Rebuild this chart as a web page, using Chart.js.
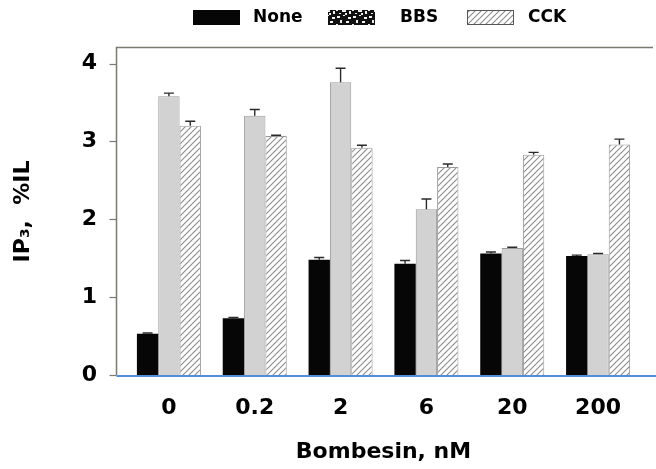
<!DOCTYPE html>
<html>
<head>
<meta charset="utf-8">
<script src="https://cdn.jsdelivr.net/npm/chart.js@4.4.1/dist/chart.umd.min.js"></script>
<style>
    html, body { margin: 0; padding: 0; background: #fff; }
</style>
</head>
<body>
<canvas id="ip3Chart" width="656" height="469"></canvas>
<script>
// ---------------- DATA ----------------
const doses = ["0", "0.2", "2", "6", "20", "200"];
const seriesNames = ["None", "BBS", "CCK"];
const noneValues = [0.53, 0.73, 1.48, 1.43, 1.56, 1.53];
const noneErrors = [0.01, 0.01, 0.03, 0.04, 0.02, 0.01];
const bbsValues = [3.58, 3.33, 3.76, 2.13, 1.63, 1.55];
const bbsErrors = [0.04, 0.08, 0.18, 0.13, 0.01, 0.01];
const cckValues = [3.20, 3.07, 2.92, 2.67, 2.83, 2.96];
const cckErrors = [0.06, 0.01, 0.03, 0.04, 0.03, 0.07];
const yTicks = [0, 1, 2, 3, 4];

// ---------------- STYLE ----------------
const FONT = "'DejaVu Sans', 'Liberation Sans', sans-serif";
Chart.defaults.font.family = FONT;
Chart.defaults.font.weight = "bold";
Chart.defaults.color = "#000";

// diagonal hatch for CCK bars
function makeHatch() {
    const c = document.createElement("canvas");
    c.width = 6;
    c.height = 6;
    const g = c.getContext("2d");
    g.fillStyle = "#fff";
    g.fillRect(0, 0, 6, 6);
    g.strokeStyle = "#8c8c8c";
    g.lineWidth = 1.1;
    g.beginPath();
    g.moveTo(-1, 7); g.lineTo(7, -1);
    g.moveTo(-1, 1); g.lineTo(1, -1);
    g.moveTo(5, 7); g.lineTo(7, 5);
    g.stroke();
    return g.createPattern(c, "repeat");
}

// blotchy dark swatch used for BBS in the legend (looks like the scanned key)
function makeSpeckle() {
    const c = document.createElement("canvas");
    c.width = 16;
    c.height = 15;
    const g = c.getContext("2d");
    g.fillStyle = "#111";
    g.fillRect(0, 0, 16, 15);
    g.fillStyle = "#f0f0f0";
    const spots = [[1, 1, 3, 2], [7, 0, 2, 1], [12, 2, 3, 2], [4, 5, 2, 3], [10, 6, 3, 2],
                   [0, 9, 2, 2], [6, 10, 4, 2], [13, 11, 2, 3], [3, 13, 2, 1], [9, 13, 2, 2]];
    spots.forEach(([x, y, w, h]) => g.fillRect(x, y, w, h));
    return g.createPattern(c, "repeat");
}

const hatch = makeHatch();
const speckle = makeSpeckle();

const seriesValues = [noneValues, bbsValues, cckValues];
const seriesErrors = [noneErrors, bbsErrors, cckErrors];
const barFills = ["#060606", "#d2d2d2", hatch];
const barEdges = ["#060606", "#9a9a9a", "#9a9a9a"];
const legendFills = ["#060606", speckle, hatch];

// legend placement (px)
const legendBoxX = [193, 328, 467];
const legendTextX = [253, 400, 528];

// ---------------- PLUGINS ----------------
const frameAndErrors = {
    id: "frameAndErrors",
    afterDatasetsDraw(chart) {
        const ctx = chart.ctx;
        const y = chart.scales.y;
        ctx.save();
        ctx.strokeStyle = "#2a2a2a";
        ctx.lineWidth = 1.4;
        chart.data.datasets.forEach((ds, i) => {
            const meta = chart.getDatasetMeta(i);
            meta.data.forEach((bar, j) => {
                const top = y.getPixelForValue(ds.data[j] + seriesErrors[i][j]);
                ctx.beginPath();
                ctx.moveTo(bar.x, bar.y);
                ctx.lineTo(bar.x, top);
                ctx.moveTo(bar.x - 5, top);
                ctx.lineTo(bar.x + 5, top);
                ctx.stroke();
            });
        });
        ctx.restore();
    },
    afterDraw(chart) {
        const ctx = chart.ctx;
        const area = chart.chartArea;
        const y = chart.scales.y;
        const left = area.left - 9.5;
        ctx.save();
        // frame: top and left
        ctx.strokeStyle = "#7a7a72";
        ctx.lineWidth = 1.5;
        ctx.beginPath();
        ctx.moveTo(chart.width - 3, area.top - 0.5);
        ctx.lineTo(left, area.top - 0.5);
        ctx.lineTo(left, area.bottom);
        ctx.stroke();
        // y tick marks outside the frame
        ctx.lineWidth = 1.2;
        y.ticks.forEach(t => {
            const py = Math.round(y.getPixelForValue(t.value)) + 0.5;
            ctx.beginPath();
            ctx.moveTo(left - 7, py);
            ctx.lineTo(left, py);
            ctx.stroke();
        });
        // blue baseline
        ctx.strokeStyle = "#4f8fd8";
        ctx.lineWidth = 2;
        ctx.beginPath();
        ctx.moveTo(left, area.bottom + 1);
        ctx.lineTo(chart.width, area.bottom + 1);
        ctx.stroke();
        // legend
        ctx.font = "bold 17px " + FONT;
        ctx.textBaseline = "middle";
        seriesNames.forEach((name, i) => {
            ctx.fillStyle = legendFills[i];
            ctx.fillRect(legendBoxX[i], 10, 47, 15);
            if (i === 2) {
                ctx.strokeStyle = "#555";
                ctx.lineWidth = 1;
                ctx.strokeRect(legendBoxX[i] + 0.5, 10.5, 46, 14);
            }
            ctx.fillStyle = "#000";
            ctx.fillText(name, legendTextX[i], 18);
        });
        ctx.restore();
    }
};

// ---------------- CHART ----------------
const ctx = document.getElementById("ip3Chart");
new Chart(ctx, {
    type: "bar",
    data: {
        labels: doses,
        datasets: seriesNames.map((name, i) => ({
            label: name,
            data: seriesValues[i],
            backgroundColor: barFills[i],
            borderColor: barEdges[i],
            borderWidth: i === 0 ? 0 : 1,
            borderSkipped: "start",
            categoryPercentage: 0.746,
            barPercentage: 1.0,
        }))
    },
    options: {
        responsive: false,
        animation: false,
        devicePixelRatio: 1,
        layout: { padding: { top: 48, right: 15, left: 0, bottom: 0 } },
        plugins: {
            legend: { display: false },
            tooltip: { enabled: false },
        },
        scales: {
            x: {
                grid: { display: false, drawTicks: false },
                border: { display: false },
                ticks: { font: { size: 22, weight: "bold" }, padding: 20, maxRotation: 0 },
                title: {
                    display: true,
                    text: "Bombesin, nM",
                    font: { size: 22, weight: "bold" },
                    padding: { top: 0, bottom: 4 },
                },
                afterFit(scale) { scale.height = 94; },
            },
            y: {
                min: 0,
                max: 4.2,
                grid: { display: false, drawTicks: false },
                border: { display: false },
                ticks: { font: { size: 22, weight: "bold" }, padding: 29 },
                afterBuildTicks(scale) {
                    scale.ticks = yTicks.map(v => ({ value: v }));
                },
                title: {
                    display: true,
                    text: "IP\u2083,  %IL",
                    font: { size: 22, weight: "bold" },
                    padding: { top: 10, bottom: 0 },
                },
                afterFit(scale) { scale.width = 126; },
            }
        }
    },
    plugins: [frameAndErrors]
});
</script>
</body>
</html>
